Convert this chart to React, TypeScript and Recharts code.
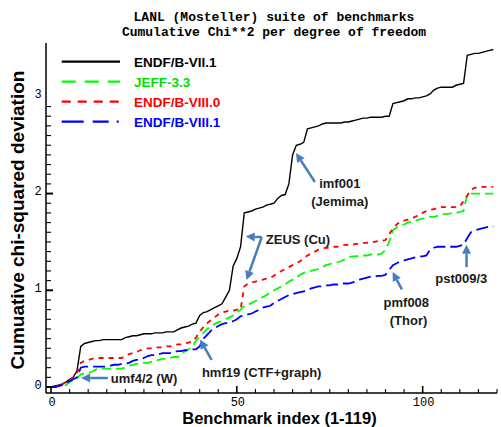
import { LineChart, Line, XAxis, YAxis, ReferenceLine, ReferenceDot, Legend } from "recharts";

// benchmark index 0..119 (0 = start of cumulative sum)
const benchmarkIndex = Array.from({ length: 120 }, (_, i) => i);

const endf71 = [
  0, 0.01, 0.02, 0.03, 0.05, 0.08, 0.1, 0.17, 0.42, 0.45,
  0.46, 0.47, 0.48, 0.48, 0.49, 0.49, 0.49, 0.49, 0.49, 0.49,
  0.51, 0.52, 0.53, 0.53, 0.54, 0.55, 0.55, 0.55, 0.56, 0.56,
  0.56, 0.57, 0.57, 0.57, 0.59, 0.61, 0.62, 0.63, 0.65, 0.66,
  0.74, 0.77, 0.78, 0.8, 0.82, 0.84, 0.86, 0.93, 1.0, 1.25,
  1.33, 1.45, 1.8, 1.81, 1.82, 1.84, 1.85, 1.86, 1.88, 1.89,
  1.9, 1.95, 1.98, 1.99, 2.1, 2.4, 2.5, 2.51, 2.53, 2.67,
  2.68, 2.69, 2.7, 2.72, 2.73, 2.73, 2.73, 2.73, 2.73, 2.74,
  2.74, 2.75, 2.76, 2.77, 2.78, 2.78, 2.79, 2.79, 2.79, 2.79,
  2.8, 2.8, 2.93, 2.94, 2.95, 2.96, 2.98, 2.98, 2.99, 2.99,
  3.0, 3.01, 3.03, 3.07, 3.09, 3.1, 3.1, 3.1, 3.1, 3.12,
  3.13, 3.14, 3.43, 3.44, 3.45, 3.45, 3.46, 3.47, 3.48, 3.49,
];

const jeff33 = [
  0, 0, 0.01, 0.01, 0.02, 0.05, 0.07, 0.09, 0.13, 0.14,
  0.14, 0.16, 0.18, 0.19, 0.19, 0.19, 0.19, 0.19, 0.19, 0.19,
  0.2, 0.22, 0.23, 0.24, 0.24, 0.25, 0.25, 0.26, 0.27, 0.28,
  0.29, 0.29, 0.3, 0.31, 0.31, 0.33, 0.37, 0.39, 0.41, 0.48,
  0.52, 0.56, 0.6, 0.63, 0.65, 0.67, 0.68, 0.7, 0.72, 0.74,
  0.77, 0.8, 0.84, 0.85, 0.87, 0.89, 0.91, 0.93, 0.95, 0.98,
  1.0, 1.02, 1.04, 1.06, 1.09, 1.11, 1.13, 1.16, 1.18, 1.19,
  1.2, 1.21, 1.22, 1.24, 1.26, 1.27, 1.28, 1.29, 1.3, 1.32,
  1.34, 1.35, 1.35, 1.36, 1.36, 1.36, 1.37, 1.37, 1.37, 1.38,
  1.42, 1.5, 1.62, 1.65, 1.67, 1.68, 1.7, 1.71, 1.72, 1.73,
  1.74, 1.75, 1.76, 1.76, 1.77, 1.78, 1.79, 1.79, 1.8, 1.8,
  1.81, 1.82, 1.99, 2.0, 2.0, 2.0, 2.0, 2.0, 2.0, 2.0,
];

const endf80 = [
  0, 0, 0.01, 0.03, 0.05, 0.07, 0.1, 0.15, 0.25, 0.27,
  0.28, 0.29, 0.3, 0.3, 0.3, 0.3, 0.3, 0.3, 0.3, 0.3,
  0.32, 0.34, 0.35, 0.36, 0.38, 0.39, 0.4, 0.4, 0.41, 0.41,
  0.41, 0.42, 0.42, 0.43, 0.44, 0.44, 0.45, 0.46, 0.47, 0.51,
  0.57, 0.62, 0.66, 0.69, 0.72, 0.75, 0.77, 0.78, 0.79, 0.79,
  0.8, 0.8, 1.04, 1.07, 1.08, 1.09, 1.1, 1.11, 1.12, 1.13,
  1.15, 1.18, 1.2, 1.22, 1.24, 1.26, 1.28, 1.3, 1.33, 1.36,
  1.38, 1.4, 1.42, 1.43, 1.44, 1.44, 1.45, 1.45, 1.46, 1.47,
  1.47, 1.47, 1.48, 1.48, 1.49, 1.49, 1.5, 1.5, 1.51, 1.51,
  1.52, 1.58, 1.64, 1.68, 1.71, 1.72, 1.73, 1.74, 1.76, 1.78,
  1.8, 1.82, 1.83, 1.84, 1.85, 1.86, 1.86, 1.86, 1.86, 1.86,
  1.87, 1.92, 1.98, 2.04, 2.06, 2.07, 2.07, 2.07, 2.07, 2.07,
];

const endf81 = [
  0, 0, 0.01, 0.02, 0.04, 0.06, 0.08, 0.1, 0.2, 0.21,
  0.21, 0.21, 0.21, 0.21, 0.21, 0.21, 0.22, 0.23, 0.23, 0.24,
  0.24, 0.25, 0.27, 0.28, 0.29, 0.3, 0.32, 0.33, 0.33, 0.34,
  0.35, 0.35, 0.35, 0.36, 0.37, 0.37, 0.38, 0.38, 0.39, 0.39,
  0.42, 0.5, 0.54, 0.58, 0.61, 0.63, 0.65, 0.66, 0.67, 0.68,
  0.7, 0.73, 0.74, 0.75, 0.76, 0.78, 0.8, 0.82, 0.83, 0.84,
  0.87, 0.89, 0.91, 0.93, 0.95, 0.96, 0.97, 0.98, 0.99, 1.0,
  1.02, 1.03, 1.04, 1.04, 1.05, 1.05, 1.06, 1.06, 1.07, 1.07,
  1.07, 1.08, 1.09, 1.11, 1.12, 1.13, 1.14, 1.14, 1.15, 1.15,
  1.16, 1.21, 1.26, 1.28, 1.3, 1.31, 1.32, 1.33, 1.34, 1.35,
  1.35, 1.36, 1.42, 1.44, 1.45, 1.45, 1.45, 1.45, 1.45, 1.45,
  1.46, 1.47, 1.54, 1.6, 1.62, 1.63, 1.64, 1.65, 1.66, 1.66,
];

const xTicks = [0, 5, 10, 15, 20, 25, 30, 35, 40, 45, 50, 55, 60, 65, 70, 75, 80, 85, 90, 95, 100, 105, 110, 115, 120];
const yTicks = Array.from({ length: 36 }, (_, i) => i / 10);

const series = [
  { key: "endf71", name: "ENDF/B-VII.1", color: "#000000", text: "#000000", width: 1.4, dash: undefined, legendDash: undefined },
  { key: "jeff33", name: "JEFF-3.3", color: "#00ff00", text: "#00e000", width: 1.8, dash: "9 5", legendDash: "14 9" },
  { key: "endf80", name: "ENDF/B-VIII.0", color: "#ff0000", text: "#ff0000", width: 1.8, dash: "5 5", legendDash: "9 7" },
  { key: "endf81", name: "ENDF/B-VIII.1", color: "#0000ff", text: "#0000ff", width: 1.8, dash: "12 5", legendDash: "22 9 16 8 2 40" },
];

// annotations, in data coordinates
const arrows = [
  { from: [15.3, 0.093], to: [8.1, 0.093] },
  { from: [43.2, 0.28], to: [40.1, 0.49] },
  { from: [56.7, 1.55], to: [52.4, 1.555] },
  { from: [56.7, 1.55], to: [52.6, 1.107] },
  { from: [71, 2.12], to: [65.9, 2.42] },
  { from: [94.4, 1.01], to: [91.9, 1.19] },
  { from: [111.8, 1.24], to: [111.8, 1.47] },
];

const notes = [
  { x: 16.1, y: 0.09, text: "umf4/2 (W)", anchor: "start" },
  { x: 40.6, y: 0.155, text: "hmf19 (CTF+graph)", anchor: "start" },
  { x: 57.8, y: 1.53, text: "ZEUS (Cu)", anchor: "start" },
  { x: 77.7, y: 2.11, text: "imf001", anchor: "middle" },
  { x: 77.7, y: 1.92, text: "(Jemima)", anchor: "middle" },
  { x: 95.6, y: 0.88, text: "pmf008", anchor: "middle" },
  { x: 96.2, y: 0.69, text: "(Thor)", anchor: "middle" },
  { x: 110.4, y: 1.124, text: "pst009/3", anchor: "middle" },
];

const ARROW = "#4a7ebb";
const SANS = "Liberation Sans, Arial, sans-serif";
const MONO = "Liberation Mono, Courier New, monospace";

const chartData = benchmarkIndex.map((idx, i) => ({
  idx,
  endf71: endf71[i],
  jeff33: jeff33[i],
  endf80: endf80[i],
  endf81: endf81[i],
}));

const BottomTick = (props: any) => {
  const { x, y, payload } = props;
  const major = payload.value % 50 === 0;
  return (
    <g>
      <line x1={x} y1={y} x2={x} y2={y - (major ? 7 : 4)} stroke="#000" strokeWidth={major ? 1.6 : 1.1} />
      {major && (
        <text x={x + 1} y={y + 13} textAnchor="middle" fontFamily={MONO} fontSize={12} fill="#000">
          {payload.value}
        </text>
      )}
    </g>
  );
};

const TopTick = (props: any) => {
  const { x, y, payload } = props;
  if (payload.value < 28) return <g />;
  const major = payload.value % 50 === 0;
  return <line x1={x} y1={y} x2={x} y2={y + (major ? 7 : 4)} stroke="#000" strokeWidth={major ? 1.6 : 1.1} />;
};

const LeftTick = (props: any) => {
  const { x, y, payload } = props;
  const v = payload.value;
  const major = Number.isInteger(v);
  return (
    <g>
      {v < 2.95 && (
        <line x1={x} y1={y} x2={x + (major ? 7 : 5)} y2={y} stroke="#000" strokeWidth={major ? 2 : 1.1} />
      )}
      {major && (
        <text x={x - 8} y={y + 1.5} textAnchor="middle" fontFamily={MONO} fontSize={12} fill="#000">
          {v}
        </text>
      )}
    </g>
  );
};

const RightTick = (props: any) => {
  const { x, y, payload } = props;
  const major = Number.isInteger(payload.value);
  return <line x1={x} y1={y} x2={x - (major ? 8 : 5)} y2={y} stroke="#000" strokeWidth={major ? 2 : 1.1} />;
};

const ArrowShape = (p: any) => {
  const { x1, y1, x2, y2 } = p;
  const ang = Math.atan2(y2 - y1, x2 - x1);
  const L = 9;
  const W = 4.5;
  const bx = x2 - L * Math.cos(ang);
  const by = y2 - L * Math.sin(ang);
  const px = -Math.sin(ang) * W;
  const py = Math.cos(ang) * W;
  return (
    <g>
      <line x1={x1} y1={y1} x2={bx} y2={by} stroke={ARROW} strokeWidth={2.5} />
      <polygon points={`${x2},${y2} ${bx + px},${by + py} ${bx - px},${by - py}`} fill={ARROW} />
    </g>
  );
};

const LegendBox = () => (
  <svg width={170} height={82}>
    {series.map((s, i) => (
      <g key={s.key}>
        <line
          x1={6.7}
          x2={65}
          y1={11.7 + i * 20}
          y2={11.7 + i * 20}
          stroke={s.color}
          strokeWidth={2.2}
          strokeDasharray={s.legendDash}
        />
        <text x={79} y={11.7 + i * 20} dy="0.36em" fontFamily={SANS} fontWeight="bold" fontSize={13.5} fill={s.text}>
          {s.name}
        </text>
      </g>
    ))}
  </svg>
);

export default function App() {
  return (
    <div style={{ position: "absolute", left: 0, top: 0, width: 501, height: 427, background: "#fff" }}>
      <div
        style={{
          position: "absolute",
          left: 74,
          top: 10,
          width: 400,
          textAlign: "center",
          fontFamily: MONO,
          fontWeight: "bold",
          fontSize: 13,
          lineHeight: "15px",
          color: "#000",
        }}
      >
        LANL (Mosteller) suite of benchmarks
        <br />
        Cumulative Chi**2 per degree of freedom
      </div>
      <LineChart width={501} height={427} data={chartData} margin={{ top: 43, right: 4, bottom: 0, left: 0 }}>
        <XAxis
          dataKey="idx"
          type="number"
          domain={[-1.35, 120]}
          ticks={xTicks}
          interval={0}
          height={34}
          tickSize={0}
          tickMargin={0}
          tickLine={false}
          axisLine={{ stroke: "#000", strokeWidth: 1.5 }}
          tick={<BottomTick />}
          label={{
            content: (p: any) => (
              <text
                x={p.viewBox.x + p.viewBox.width / 2 + 8}
                y={p.viewBox.y + 30.5}
                textAnchor="middle"
                fontFamily={SANS}
                fontWeight="bold"
                fontSize={16.5}
                fill="#000"
              >
                Benchmark index (1-119)
              </text>
            ),
          }}
        />
        <XAxis
          xAxisId="top"
          orientation="top"
          dataKey="idx"
          type="number"
          domain={[-1.35, 120]}
          ticks={xTicks}
          interval={0}
          height={0}
          tickSize={0}
          tickMargin={0}
          tickLine={false}
          axisLine={{ stroke: "#000", strokeWidth: 1.5 }}
          tick={<TopTick />}
        />
        <YAxis
          type="number"
          domain={[-0.062, 3.557]}
          ticks={yTicks}
          interval={0}
          width={46}
          tickSize={0}
          tickMargin={0}
          tickLine={false}
          axisLine={{ stroke: "#000", strokeWidth: 1.5 }}
          tick={<LeftTick />}
          label={{
            content: () => (
              <text
                x={24}
                y={220}
                transform="rotate(-90 24 220)"
                textAnchor="middle"
                fontFamily={SANS}
                fontWeight="bold"
                fontSize={19}
                fill="#000"
              >
                Cumuative chi-squared deviation
              </text>
            ),
          }}
        />
        <YAxis
          yAxisId="right"
          orientation="right"
          type="number"
          domain={[-0.062, 3.557]}
          ticks={yTicks}
          interval={0}
          width={0}
          tickSize={0}
          tickMargin={0}
          tickLine={false}
          axisLine={{ stroke: "#000", strokeWidth: 1.5 }}
          tick={<RightTick />}
        />
        <Legend
          layout="horizontal"
          verticalAlign="middle"
          align="center"
          wrapperStyle={{ left: 55, top: 50, width: 170, height: 82 }}
          content={() => <LegendBox />}
        />
        {series.map((s) => (
          <Line
            key={s.key}
            type="linear"
            dataKey={s.key}
            name={s.name}
            stroke={s.color}
            strokeWidth={s.width}
            strokeDasharray={s.dash}
            dot={false}
            activeDot={false}
            isAnimationActive={false}
          />
        ))}
        {arrows.map((a, i) => (
          <ReferenceLine
            key={"a" + i}
            segment={[
              { x: a.from[0], y: a.from[1] },
              { x: a.to[0], y: a.to[1] },
            ]}
            ifOverflow="visible"
            shape={ArrowShape}
          />
        ))}
        {notes.map((n, i) => (
          <ReferenceDot
            key={"n" + i}
            x={n.x}
            y={n.y}
            r={0}
            ifOverflow="visible"
            shape={(p: any) => (
              <text
                x={p.cx}
                y={p.cy}
                dy="0.36em"
                textAnchor={n.anchor}
                fontFamily={SANS}
                fontWeight="bold"
                fontSize={13}
                fill="#1a1a1a"
              >
                {n.text}
              </text>
            )}
          />
        ))}
      </LineChart>
    </div>
  );
}
